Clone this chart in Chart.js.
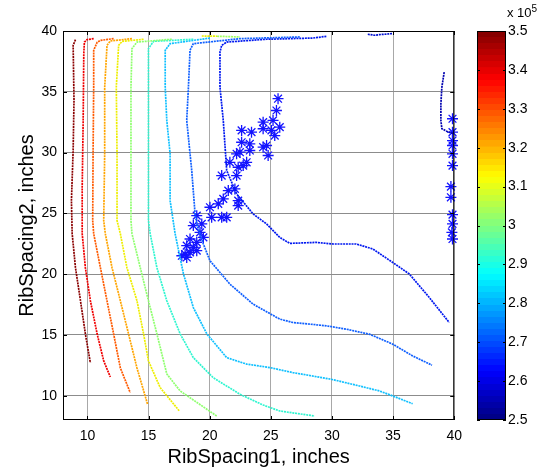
<!DOCTYPE html>
<html lang="en">
<head>
  <meta charset="UTF-8" />
  <title>RibSpacing contour</title>
  <script src="https://cdn.jsdelivr.net/npm/chart.js"></script>
  <style>
    body { margin: 0; background: #fff; font-family: Arial, "Liberation Sans", sans-serif; }
    #wrap { position: relative; width: 542px; height: 471px; }
    #main { position: absolute; left: 0; top: 0; }
    #cbar { position: absolute; left: 470px; top: 0; }
    #exp { position: absolute; left: 507px; top: 3px; font-size: 13px; color: #000; }
    #exp sup { font-size: 10px; }
  </style>
</head>
<body>
  <div id="wrap">
    <canvas id="main" width="470" height="471"></canvas>
    <canvas id="cbar" width="72" height="471"></canvas>
    <div id="exp">x 10<sup>5</sup></div>
  </div>

  <script>
    // tick labels
    const xTicks = [10, 15, 20, 25, 30, 35, 40];
    const yTicks = [10, 15, 20, 25, 30, 35, 40];
    const cbTicks = [2.5, 2.6, 2.7, 2.8, 2.9, 3.0, 3.1, 3.2, 3.3, 3.4, 3.5];
    const cbLabels = ['2.5', '2.6', '2.7', '2.8', '2.9', '3', '3.1', '3.2', '3.3', '3.4', '3.5'];

    // contour lines as [RibSpacing1, RibSpacing2]
    const lineDarkRed = [[9.02,39.29],[8.83,38.82],[8.90,34.29],[8.83,30.17],[8.69,26.05],[8.75,23.33],[9.02,20.53],[9.43,17.81],[9.83,15.09],[10.24,12.70]];
    const lineRed = [[10.51,39.37],[9.97,39.29],[9.75,39.09],[9.70,38.14],[9.65,32.64],[9.57,27.14],[9.57,23.33],[9.83,20.53],[10.24,17.81],[10.79,15.09],[11.33,12.86],[11.87,11.54]];
    const lineOrangeRed = [[12.14,39.37],[11.06,39.23],[10.79,39.07],[10.51,38.41],[10.51,35.38],[10.46,29.92],[10.43,24.40],[10.51,23.33],[11.06,20.53],[11.60,17.81],[12.14,15.09],[12.69,12.28],[13.50,10.25]];
    const lineOrange = [[13.64,39.37],[11.87,39.18],[11.60,38.82],[11.41,35.38],[11.41,29.92],[11.33,24.40],[11.46,23.33],[12.01,20.53],[12.69,17.81],[13.36,15.09],[14.05,12.28],[14.91,9.32]];
    const lineYellow = [[14.59,39.32],[12.83,39.15],[12.55,38.82],[12.36,35.38],[12.42,29.92],[12.42,24.40],[12.69,23.33],[13.23,20.53],[14.05,17.81],[14.59,15.09],[14.99,12.86],[15.95,10.66],[17.52,8.74]];
    const lineGreen = [[16.90,39.32],[14.05,39.09],[13.64,38.55],[13.56,35.38],[13.56,29.92],[13.56,24.40],[13.64,23.33],[14.32,20.53],[14.99,17.81],[15.68,15.09],[16.49,11.79],[17.58,10.39],[20.57,8.33]];
    const lineAqua = [[18.66,39.32],[15.40,39.15],[14.99,38.55],[14.99,35.38],[14.99,24.40],[15.13,23.33],[15.68,20.53],[16.49,17.81],[17.58,15.09],[18.66,13.13],[20.29,11.48],[22.47,10.12],[24.37,9.23],[25.73,8.74],[28.58,8.33]];
    const lineCyan = [[20.02,39.42],[16.76,38.96],[16.36,38.41],[16.36,35.38],[16.49,32.64],[16.76,29.92],[16.76,26.05],[17.17,23.33],[17.85,20.03],[18.66,17.25],[19.76,15.09],[21.39,13.13],[23.02,12.60],[24.92,12.31],[26.81,11.90],[29.94,11.35],[32.25,10.80],[33.88,10.39],[34.97,9.98],[36.60,9.34]];
    const lineLightBlue = [[27.36,39.51],[22.47,39.37],[18.66,38.96],[18.39,38.41],[18.26,35.38],[18.12,32.64],[18.53,28.52],[18.80,24.98],[18.94,24.15],[19.48,22.48],[20.02,21.10],[21.65,19.18],[23.55,17.53],[25.73,16.30],[26.81,16.02],[29.54,15.75],[31.17,15.47],[33.07,15.06],[34.97,14.24],[36.60,13.27],[38.18,12.51]];
    const lineBlue = [[29.54,39.56],[28.44,39.42],[24.65,39.32],[21.39,39.09],[20.98,38.82],[20.84,38.27],[20.84,35.38],[21.11,32.64],[21.39,28.52],[22.20,26.60],[23.55,24.95],[24.65,24.13],[25.73,23.02],[26.55,22.53],[28.72,22.61],[30.08,22.48],[31.98,22.48],[33.34,22.07],[34.97,20.96],[36.33,20.01],[37.96,18.08],[39.59,16.02]];
    const lineDarkBlueRight = [[39.18,36.62],[38.99,35.38],[38.91,34.02],[38.91,32.64],[38.99,31.96],[39.43,31.73],[40.0,31.54]];
    const lineDarkBlueTop = [[32.93,39.73],[33.50,39.65],[33.88,39.70],[34.97,39.79]];
    const lineTopYellow = [[19.35,39.59],[20.60,39.57]];
    const lineTopGreen = [[20.60,39.57],[22.47,39.51]];

    // design points (asterisks)
    const starX = [25.59,25.46,25.18,24.37,25.73,24.37,25.05,25.32,22.61,23.42,22.61,23.28,24.37,24.65,23.28,24.78,22.20,22.47,23.02,22.74,21.65,22.33,20.98,22.20,22.06,21.52,21.11,20.70,22.33,22.33,20.02,20.16,20.98,21.39,18.94,18.66,19.35,19.21,19.48,18.39,18.94,18.12,18.66,17.99,18.39,17.72,18.12,18.94,
                   39.86,39.86,39.86,39.86,39.86,39.86,39.73,39.73,39.86,39.86,39.81,39.86];
    const starY = [34.43,33.46,32.64,32.50,32.09,31.96,31.82,31.40,31.82,31.68,30.85,30.72,30.44,30.58,30.17,29.76,29.90,30.03,29.20,28.93,29.20,28.79,28.11,28.11,27.01,26.87,26.19,25.78,26.05,25.64,25.50,24.67,24.67,24.67,24.81,23.99,24.13,23.43,23.02,22.89,22.61,22.34,22.20,21.65,21.79,21.51,21.37,21.93,
                   32.78,31.68,30.99,30.58,29.90,28.93,27.20,26.32,24.89,24.13,23.43,22.89];

    const toPts = arr => arr.map(p => ({ x: p[0], y: p[1] }));

    // MATLAB export draws the contours as tightly dotted lines
    function contour(data, color) {
      return {
        type: 'line',
        data: toPts(data),
        borderColor: color,
        borderWidth: 1.7,
        borderDash: [2, 0.8],
        pointRadius: 0,
        fill: false,
        tension: 0
      };
    }

    const starPts = starX.map((x, i) => ({ x: x, y: starY[i] }));

    // box and inward tick marks like the original figure
    const boxPlugin = {
      id: 'box',
      afterDraw(chart) {
        const { ctx, chartArea: a, scales } = chart;
        ctx.save();
        ctx.strokeStyle = '#000';
        ctx.lineWidth = 1;
        ctx.strokeRect(a.left + 0.5, a.top + 0.5, a.right - a.left - 1, a.bottom - a.top - 1);
        ctx.beginPath();
        scales.x.ticks.forEach(t => {
          const px = Math.round(scales.x.getPixelForValue(t.value)) + 0.5;
          ctx.moveTo(px, a.bottom); ctx.lineTo(px, a.bottom - 4);
          ctx.moveTo(px, a.top); ctx.lineTo(px, a.top + 4);
        });
        scales.y.ticks.forEach(t => {
          const py = Math.round(scales.y.getPixelForValue(t.value)) + 0.5;
          ctx.moveTo(a.left, py); ctx.lineTo(a.left + 4, py);
          ctx.moveTo(a.right, py); ctx.lineTo(a.right - 4, py);
        });
        ctx.stroke();
        ctx.restore();
      }
    };

    const tickFont = { family: 'Arial, "Liberation Sans", sans-serif', size: 14 };
    const titleFont = { family: 'Arial, "Liberation Sans", sans-serif', size: 20 };

    new Chart(document.getElementById('main'), {
      type: 'scatter',
      data: {
        datasets: [
          contour(lineDarkRed, '#8a0000'),
          contour(lineRed, '#f00000'),
          contour(lineOrangeRed, '#ff5a00'),
          contour(lineOrange, '#ffa500'),
          contour(lineYellow, '#eeee00'),
          contour(lineGreen, '#90ff70'),
          contour(lineAqua, '#30f5d0'),
          contour(lineCyan, '#10c0ff'),
          contour(lineLightBlue, '#1060ff'),
          contour(lineBlue, '#0018f0'),
          contour(lineDarkBlueRight, '#0000b0'),
          contour(lineDarkBlueTop, '#0010d0'),
          contour(lineTopYellow, '#e8f000'),
          contour(lineTopGreen, '#a0ff60'),
          {
            data: starPts,
            pointStyle: 'star',
            pointRadius: 5.5,
            borderColor: '#1414ff',
            backgroundColor: '#1414ff',
            borderWidth: 1.3,
            clip: false
          }
        ]
      },
      options: {
        responsive: false,
        animation: false,
        layout: { padding: { left: 0, top: 31, right: 15, bottom: 0 } },
        plugins: { legend: { display: false }, tooltip: { enabled: false } },
        scales: {
          x: {
            type: 'linear',
            min: 8, max: 40,
            afterBuildTicks: s => { s.ticks = xTicks.map(v => ({ value: v })); },
            afterFit: s => { s.height = 51; },
            ticks: { color: '#000', font: tickFont, padding: 8, maxRotation: 0, callback: (v, i) => String(xTicks[i]) },
            grid: { color: '#a8a8a8', drawTicks: false },
            border: { display: false },
            title: { display: true, text: 'RibSpacing1, inches', color: '#000', font: titleFont, padding: { top: 0, bottom: 2 } }
          },
          y: {
            type: 'linear',
            min: 8, max: 40,
            afterBuildTicks: s => { s.ticks = yTicks.map(v => ({ value: v })); },
            afterFit: s => { s.width = 63; },
            ticks: { color: '#000', font: tickFont, padding: 6, callback: (v, i) => String(yTicks[i]) },
            grid: { color: '#8c8c8c', drawTicks: false },
            border: { display: false },
            title: { display: true, text: 'RibSpacing2, inches', color: '#000', font: titleFont, padding: { top: 15, bottom: 0 } }
          }
        }
      },
      plugins: [boxPlugin]
    });

    // jet colormap, 64 bands like MATLAB
    function jet(t) {
      const f = v => Math.round(255 * Math.max(0, Math.min(1, v)));
      return 'rgb(' + f(1.5 - Math.abs(4 * t - 3)) + ',' + f(1.5 - Math.abs(4 * t - 2)) + ',' + f(1.5 - Math.abs(4 * t - 1)) + ')';
    }

    function jetGradient(context) {
      const { ctx, chartArea } = context.chart;
      if (!chartArea) return '#888';
      const g = ctx.createLinearGradient(0, chartArea.bottom, 0, chartArea.top);
      const n = 64;
      for (let i = 0; i < n; i++) {
        const c = jet((i + 0.5) / n);
        g.addColorStop(i / n, c);
        g.addColorStop((i + 1) / n - 0.0001, c);
      }
      return g;
    }

    const cbTickPlugin = {
      id: 'cbticks',
      afterDraw(chart) {
        const { ctx, chartArea: a, scales } = chart;
        ctx.save();
        ctx.strokeStyle = '#000';
        ctx.lineWidth = 1;
        ctx.beginPath();
        scales.y.ticks.forEach(t => {
          const py = Math.round(scales.y.getPixelForValue(t.value)) + 0.5;
          ctx.moveTo(a.left, py); ctx.lineTo(a.left + 3, py);
          ctx.moveTo(a.right, py); ctx.lineTo(a.right - 3, py);
        });
        ctx.stroke();
        ctx.strokeRect(a.left + 0.5, a.top + 0.5, a.right - a.left - 1, a.bottom - a.top - 1);
        ctx.restore();
      }
    };

    new Chart(document.getElementById('cbar'), {
      type: 'bar',
      data: {
        labels: [''],
        datasets: [{
          data: [[cbTicks[0], cbTicks[cbTicks.length - 1]]],
          backgroundColor: jetGradient,
          borderWidth: 0,
          barPercentage: 1,
          categoryPercentage: 1
        }]
      },
      options: {
        responsive: false,
        animation: false,
        layout: { padding: { left: 7, top: 31, right: 0, bottom: 51 } },
        plugins: { legend: { display: false }, tooltip: { enabled: false } },
        scales: {
          x: { display: false },
          y: {
            position: 'right',
            min: 2.5, max: 3.5,
            afterBuildTicks: s => { s.ticks = cbTicks.map(v => ({ value: v })); },
            afterFit: s => { s.width = 36; },
            ticks: { color: '#000', font: tickFont, padding: 2, callback: (v, i) => cbLabels[i] },
            grid: { display: false, drawTicks: false },
            border: { display: false }
          }
        }
      },
      plugins: [cbTickPlugin]
    });
  </script>
</body>
</html>
